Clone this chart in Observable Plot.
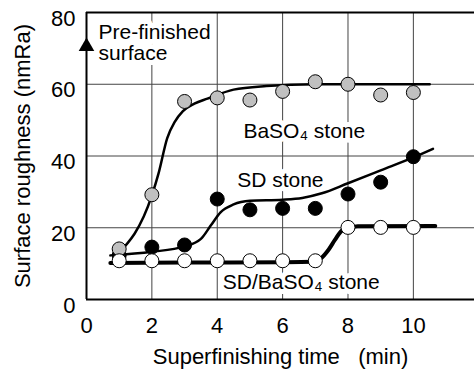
<!DOCTYPE html>
<html><head><meta charset="utf-8">
<script src="https://cdn.jsdelivr.net/npm/d3@7"></script>
<script src="https://cdn.jsdelivr.net/npm/@observablehq/plot@0.6"></script>
<style>body{margin:0;background:#fff;overflow:hidden}</style>
</head><body><div id="chart"></div>
<script>
// measured points
const time = [1, 2, 3, 4, 5, 6, 7, 8, 9, 10];
const baso4 = [14.1, 29.2, 55.2, 56.2, 55.6, 58.0, 60.7, 60.0, 57.0, 57.7];
const sd = [12.3, 14.6, 15.2, 28.0, 25.0, 25.4, 25.4, 29.4, 32.7, 39.8];
const sdBaso4 = [10.8, 10.8, 10.8, 10.8, 10.8, 10.8, 10.8, 20.1, 20.1, 20.1];

// hand-drawn trend curves
const baso4CurveX = [0.94, 2.0, 2.2, 2.47, 2.7, 2.95, 3.3, 3.7, 4.5, 5.5, 7.0, 10.5];
const baso4CurveY = [12.5, 29.0, 35.0, 45.0, 49.5, 52.5, 54.6, 56.0, 58.5, 59.5, 60.0, 60.0];
const sdCurveX = [0.73, 2.0, 3.0, 3.5, 3.8, 4.1, 4.5, 5.0, 6.0, 6.6, 7.2, 8.0, 9.0, 10.0, 10.6];
const sdCurveY = [12.3, 13.3, 14.8, 16.9, 20.6, 24.3, 26.5, 27.5, 27.8, 28.3, 29.6, 32.4, 36.0, 39.6, 42.0];
const mixCurveX = [0.73, 3.0, 6.0, 6.9, 7.15, 7.4, 7.6, 7.85, 8.3, 10.67];
const mixCurveY = [10.2, 10.3, 10.4, 10.5, 11.3, 13.8, 16.6, 19.5, 20.4, 20.5];

// axes
const xTicks = [0, 2, 4, 6, 8, 10];
const yTicks = [0, 20, 40, 60, 80];
const xGrid = [2, 4, 6, 8, 10];
const yGrid = [20, 40, 60];
const xLabel = "Superfinishing time\u00a0\u00a0\u00a0(min)";
const yLabel = "Surface roughness (nmRa)";
const seriesLabels = ["BaSO\u2084 stone", "SD stone", "SD/BaSO\u2084 stone"];
const prefinishedLabel = "Pre-finished\nsurface";

const pts = (ys) => time.map((t, i) => ({x: t, y: ys[i]}));
const curve = (xs, ys) => xs.map((x, i) => ({x, y: ys[i]}));

const halo = {fill: "black", stroke: "white", strokeWidth: 10, paintOrder: "stroke", fontSize: 21};

const chart = Plot.plot({
  width: 474, height: 369,
  marginLeft: 86, marginRight: 0, marginTop: 12, marginBottom: 70,
  style: {fontFamily: "'Liberation Sans', Arial, sans-serif", fontSize: "22px", background: "white", color: "black"},
  x: {domain: [0, 11.87]},
  y: {domain: [0, 80]},
  marks: [
    Plot.gridX(xGrid, {stroke: "#444", strokeOpacity: 1, strokeWidth: 1}),
    Plot.gridY(yGrid, {stroke: "#444", strokeOpacity: 1, strokeWidth: 1}),
    Plot.ruleY([0, 80], {stroke: "black", strokeWidth: 2}),
    Plot.ruleX([0], {stroke: "black", strokeWidth: 2}),
    Plot.axisX({ticks: xTicks, tickSize: 0, tickPadding: 18, fontSize: 22,
      label: xLabel, labelAnchor: "center", labelArrow: "none", labelOffset: 64}),
    Plot.axisY({ticks: yTicks, tickSize: 0, tickPadding: 11, dy: 6, fontSize: 22,
      label: yLabel, labelAnchor: "center", labelArrow: "none", labelOffset: 72}),
    Plot.text([seriesLabels[0]], {x: 4.8, y: 46.8, text: d => d, textAnchor: "start", ...halo}),
    Plot.text([seriesLabels[1]], {x: 5.93, y: 33.3, text: d => d, textAnchor: "middle", ...halo}),
    Plot.text([seriesLabels[2]], {x: 6.57, y: 4.9, text: d => d, textAnchor: "middle", ...halo}),
    Plot.text([prefinishedLabel], {x: 0.37, y: 76.8, text: d => d, textAnchor: "start", lineAnchor: "top", lineHeight: 1.0, ...halo}),
    Plot.line(curve(baso4CurveX, baso4CurveY), {x: "x", y: "y", curve: "monotone-x", stroke: "black", strokeWidth: 2.5}),
    Plot.line(curve(sdCurveX, sdCurveY), {x: "x", y: "y", curve: "monotone-x", stroke: "black", strokeWidth: 2.5}),
    Plot.line(curve(mixCurveX, mixCurveY), {x: "x", y: "y", curve: "monotone-x", stroke: "black", strokeWidth: 4}),
    Plot.dot(pts(sd), {x: "x", y: "y", r: 7, fill: "black", stroke: "black", strokeWidth: 1}),
    Plot.dot(pts(baso4), {x: "x", y: "y", r: 7, fill: "#c0c0c0", stroke: "black", strokeWidth: 1}),
    Plot.dot(pts(sdBaso4), {x: "x", y: "y", r: 7, fill: "white", stroke: "black", strokeWidth: 1}),
    Plot.dot([{x: 0, y: 70.5}], {x: "x", y: "y", symbol: "triangle", r: 5.8, fill: "black", stroke: "none"})
  ]
});
document.getElementById("chart").appendChild(chart);
</script></body></html>
